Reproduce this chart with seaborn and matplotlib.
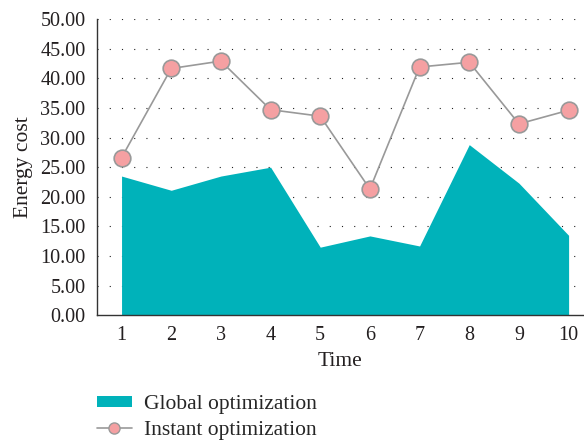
import matplotlib
matplotlib.use("Agg")
import matplotlib.pyplot as plt
from matplotlib.patches import Patch
from matplotlib.lines import Line2D
import seaborn as sns
import pandas as pd

time = [1, 2, 3, 4, 5, 6, 7, 8, 9, 10]
global_opt = [23.5, 21.1, 23.5, 25.0, 11.5, 13.4, 11.7, 28.8, 22.3, 13.5]
instant_opt = [26.6, 41.65, 42.9, 34.7, 33.6, 21.3, 41.9, 42.7, 32.3, 34.6]
y_ticks = [0, 5, 10, 15, 20, 25, 30, 35, 40, 45, 50]

sns.set_style("white")
plt.rcParams["font.family"] = ["Liberation Serif", "DejaVu Serif"]

teal = "#00B2BA"
pink = "#F5A0A2"
grey = "#999999"

df = pd.DataFrame({"Time": time, "Global": global_opt, "Instant": instant_opt})

fig = plt.figure(figsize=(5.84, 4.42), dpi=100)
ax = fig.add_axes([0.1656, 0.2866, 1 - 0.1656, 0.957 - 0.2866])

for y in y_ticks[1:]:
    ax.axhline(y, color="#222222", lw=0.8, ls=(0, (1, 10)), zorder=0)

ax.fill_between(df["Time"], df["Global"], 0, color=teal, lw=0, zorder=2)
sns.lineplot(data=df, x="Time", y="Instant", ax=ax, color=grey, lw=1.2,
             marker="o", markersize=12, markerfacecolor=pink,
             markeredgecolor=grey, markeredgewidth=1.2, zorder=3)

ax.set_xlim(0.5, 10.31)
ax.set_ylim(0, 50)
ax.set_xticks(time)
ax.set_yticks(y_ticks)
ax.set_yticklabels([f"{v:.2f}" for v in y_ticks])
ax.tick_params(axis="both", labelsize=14.5, length=0, pad=8, colors="#231f20")
ax.set_xlabel("Time", fontsize=15.5, color="#231f20", labelpad=5)
ax.set_ylabel("Energy cost", fontsize=15.5, color="#231f20", labelpad=5)

for side in ("top", "right"):
    ax.spines[side].set_visible(False)
for side in ("left", "bottom"):
    ax.spines[side].set_color("#333333")
    ax.spines[side].set_linewidth(1.0)

handles = [
    Patch(facecolor=teal, edgecolor="none", label="Global optimization"),
    Line2D([], [], color=grey, lw=1.2, marker="o", markersize=8,
           markerfacecolor=pink, markeredgecolor=grey, label="Instant optimization"),
]
fig.legend(handles=handles, loc="upper left", bbox_to_anchor=(0.166, 0.106),
           frameon=False, fontsize=15.5, handlelength=1.62, handleheight=0.36,
           handletextpad=0.58, labelspacing=0.3, borderaxespad=0,
           borderpad=0)

fig.savefig("out.png", dpi=100)
